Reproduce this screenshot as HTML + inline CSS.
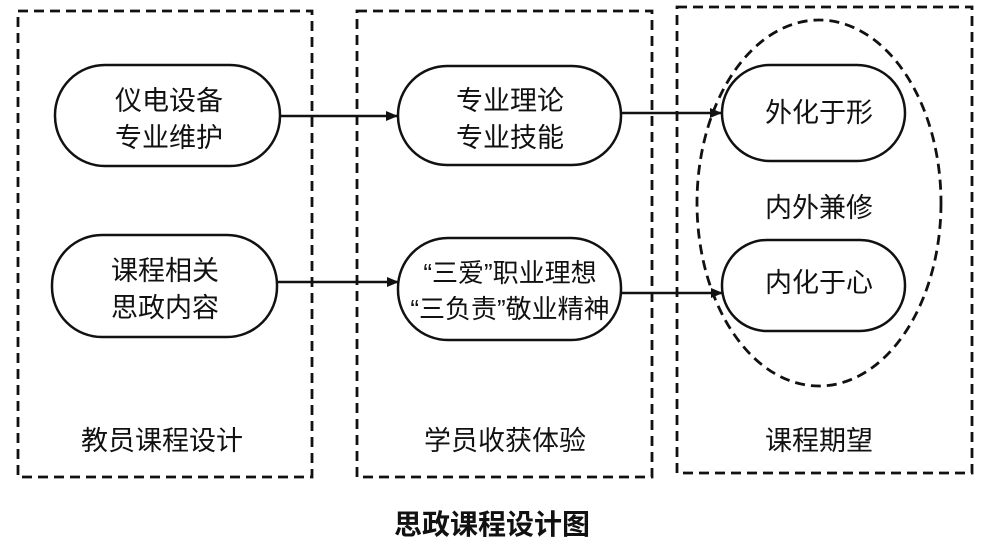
<!DOCTYPE html>
<html><head><meta charset="utf-8"><style>
body{margin:0;background:#fff;}
svg text{font-family:"Liberation Sans","Noto Sans CJK SC",sans-serif;fill:#111;}
</style></head><body>
<svg width="985" height="544" viewBox="0 0 985 544" xmlns="http://www.w3.org/2000/svg">
<defs><marker id="a" markerWidth="12" markerHeight="10" refX="11" refY="5" orient="auto" markerUnits="userSpaceOnUse"><path d="M0,0 L12,5 L0,10 z" fill="#111"/></marker></defs>
<g fill="none" stroke="#111" stroke-width="2.8" stroke-dasharray="10,6">
<rect x="18" y="11" width="294" height="466"/>
<rect x="357" y="11" width="295" height="466"/>
<rect x="677" y="7" width="295" height="466"/>
<ellipse cx="819" cy="203" rx="122" ry="183"/>
</g>
<g fill="#fff" stroke="#111" stroke-width="2.5">
<rect x="55" y="65" width="225" height="101" rx="50"/>
<rect x="52" y="235" width="225" height="102" rx="50"/>
<rect x="398" y="66" width="223" height="99" rx="49"/>
<rect x="398" y="238" width="223" height="102" rx="50"/>
<rect x="722" y="65" width="183" height="96" rx="48"/>
<rect x="722" y="240" width="183" height="91" rx="45"/>
</g>
<g stroke="#111" stroke-width="2.5" fill="none">
<line x1="281" y1="116" x2="397" y2="116" marker-end="url(#a)"/>
<line x1="278" y1="282" x2="398" y2="282" marker-end="url(#a)"/>
<line x1="622" y1="113" x2="721" y2="113" marker-end="url(#a)"/>
<line x1="622" y1="293" x2="722" y2="293" marker-end="url(#a)"/>
</g>
<g font-size="27" text-anchor="middle">
<text x="169" y="110">仪电设备</text>
<text x="169" y="147">专业维护</text>
<text x="165" y="280">课程相关</text>
<text x="165" y="317">思政内容</text>
<text x="510" y="110">专业理论</text>
<text x="510" y="147">专业技能</text>
<text x="510" y="282" font-size="26">“三爱”职业理想</text>
<text x="510" y="318" font-size="26">“三负责”敬业精神</text>
<text x="819" y="122">外化于形</text>
<text x="819" y="217">内外兼修</text>
<text x="819" y="292">内化于心</text>
<text x="162" y="450">教员课程设计</text>
<text x="505" y="450">学员收获体验</text>
<text x="819" y="450">课程期望</text>
</g>
<text x="492" y="534" font-size="28" font-weight="bold" text-anchor="middle">思政课程设计图</text>
</svg>
</body></html>
